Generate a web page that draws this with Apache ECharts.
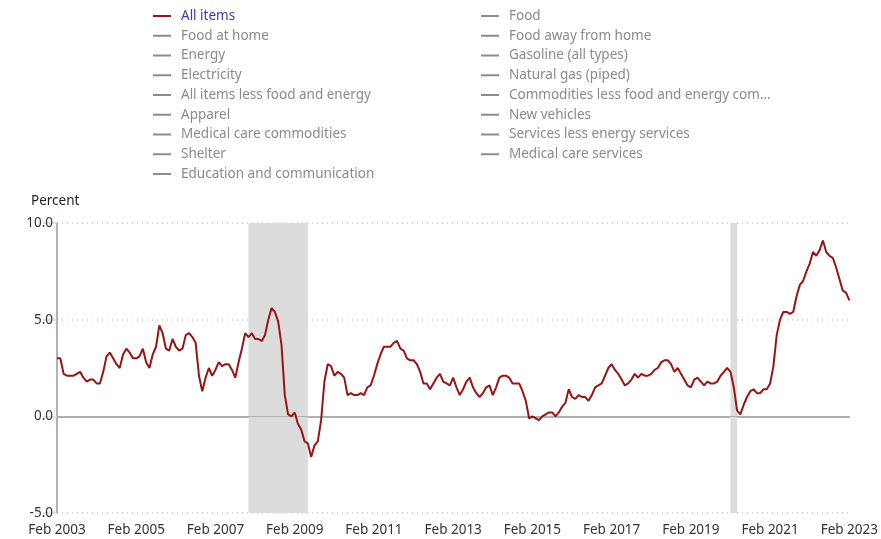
<!DOCTYPE html>
<html>
<head>
<meta charset="utf-8">
<script src="https://cdn.jsdelivr.net/npm/echarts@6/dist/echarts.min.js"></script>
<style>
  html, body { margin: 0; padding: 0; background: #fff; }
  #chart { width: 881px; height: 539px; }
</style>
</head>
<body>
<div id="chart"></div>
<script>
"use strict";

// 12-month percent change, CPI-U, Feb 2003 .. Feb 2023
const startYear = 2003;
const startMonth = 1; // Feb (0-based)
const monthNames = ['Jan','Feb','Mar','Apr','May','Jun','Jul','Aug','Sep','Oct','Nov','Dec'];

const y2003 = [3.0, 3.0, 2.2, 2.1, 2.1, 2.1, 2.2, 2.3, 2.0, 1.8, 1.9]; // Feb-Dec
const y2004 = [1.9, 1.7, 1.7, 2.3, 3.1, 3.3, 3.0, 2.7, 2.5, 3.2, 3.5, 3.3];
const y2005 = [3.0, 3.0, 3.1, 3.5, 2.8, 2.5, 3.2, 3.6, 4.7, 4.3, 3.5, 3.4];
const y2006 = [4.0, 3.6, 3.4, 3.5, 4.2, 4.3, 4.1, 3.8, 2.1, 1.3, 2.0, 2.5];
const y2007 = [2.1, 2.4, 2.8, 2.6, 2.7, 2.7, 2.4, 2.0, 2.8, 3.5, 4.3, 4.1];
const y2008 = [4.3, 4.0, 4.0, 3.9, 4.2, 5.0, 5.6, 5.4, 4.9, 3.7, 1.1, 0.1];
const y2009 = [0.0, 0.2, -0.4, -0.7, -1.3, -1.4, -2.1, -1.5, -1.3, -0.2, 1.8, 2.7];
const y2010 = [2.6, 2.1, 2.3, 2.2, 2.0, 1.1, 1.2, 1.1, 1.1, 1.2, 1.1, 1.5];
const y2011 = [1.6, 2.1, 2.7, 3.2, 3.6, 3.6, 3.6, 3.8, 3.9, 3.5, 3.4, 3.0];
const y2012 = [2.9, 2.9, 2.7, 2.3, 1.7, 1.7, 1.4, 1.7, 2.0, 2.2, 1.8, 1.7];
const y2013 = [1.6, 2.0, 1.5, 1.1, 1.4, 1.8, 2.0, 1.5, 1.2, 1.0, 1.2, 1.5];
const y2014 = [1.6, 1.1, 1.5, 2.0, 2.1, 2.1, 2.0, 1.7, 1.7, 1.7, 1.3, 0.8];
const y2015 = [-0.1, 0.0, -0.1, -0.2, 0.0, 0.1, 0.2, 0.2, 0.0, 0.2, 0.5, 0.7];
const y2016 = [1.4, 1.0, 0.9, 1.1, 1.0, 1.0, 0.8, 1.1, 1.5, 1.6, 1.7, 2.1];
const y2017 = [2.5, 2.7, 2.4, 2.2, 1.9, 1.6, 1.7, 1.9, 2.2, 2.0, 2.2, 2.1];
const y2018 = [2.1, 2.2, 2.4, 2.5, 2.8, 2.9, 2.9, 2.7, 2.3, 2.5, 2.2, 1.9];
const y2019 = [1.6, 1.5, 1.9, 2.0, 1.8, 1.6, 1.8, 1.7, 1.7, 1.8, 2.1, 2.3];
const y2020 = [2.5, 2.3, 1.5, 0.3, 0.1, 0.6, 1.0, 1.3, 1.4, 1.2, 1.2, 1.4];
const y2021 = [1.4, 1.7, 2.6, 4.2, 5.0, 5.4, 5.4, 5.3, 5.4, 6.2, 6.8, 7.0];
const y2022 = [7.5, 7.9, 8.5, 8.3, 8.6, 9.1, 8.5, 8.3, 8.2, 7.7, 7.1, 6.5];
const y2023 = [6.4, 6.0]; // Jan-Feb

const allItems = [].concat(y2003, y2004, y2005, y2006, y2007, y2008, y2009, y2010,
  y2011, y2012, y2013, y2014, y2015, y2016, y2017, y2018, y2019, y2020, y2021, y2022, y2023);

// month categories
let months = [];
for (let i = 0; i < allItems.length; i++) {
  let m = startMonth + i;
  months.push(monthNames[m % 12] + ' ' + (startYear + Math.floor(m / 12)));
}

// recession periods
const recessions = [['Dec 2007', 'Jun 2009'], ['Feb 2020', 'Apr 2020']];

const yTicks = [-5, 0, 5, 10];

const legendLeft = ['All items', 'Food at home', 'Energy', 'Electricity',
  'All items less food and energy', 'Apparel', 'Medical care commodities', 'Shelter',
  'Education and communication'];
const legendRight = ['Food', 'Food away from home', 'Gasoline (all types)', 'Natural gas (piped)',
  'Commodities less food and energy commodities', 'New vehicles',
  'Services less energy services', 'Medical care services'];

const chart = echarts.init(document.getElementById('chart'), null, { renderer: 'canvas' });

const fontFamily = 'Noto Sans';
const grayText = '#8a8a8a';
const grayLine = '#8c8c8c';

function legendData(names) {
  return names.map(function (n) {
    return {
      name: n,
      textStyle: { color: n === 'All items' ? '#3b3bab' : grayText }
    };
  });
}

function legendBox(names, left) {
  return {
    data: legendData(names),
    orient: 'vertical',
    left: left,
    top: 8,
    padding: 0,
    icon: 'rect',
    itemWidth: 18,
    itemHeight: 2,
    itemGap: 3.75,
    selectedMode: false,
    textStyle: {
      fontFamily: fontFamily,
      fontSize: 13.5,
      lineHeight: 16,
      padding: [0, 0, 0, 5],
      width: 272,
      overflow: 'truncate',
      ellipsis: '...'
    }
  };
}

let series = [{
  name: 'All items',
  type: 'line',
  data: allItems,
  symbol: 'none',
  smooth: false,
  lineStyle: { color: '#971515', width: 2 },
  itemStyle: { color: '#971515' },
  z: 5,
  markArea: {
    silent: true,
    itemStyle: { color: '#dcdcdc' },
    data: recessions.map(function (r) { return [{ xAxis: r[0] }, { xAxis: r[1] }]; })
  },
  markLine: {
    silent: true,
    symbol: 'none',
    label: { show: false },
    lineStyle: { color: '#b0b0b0', type: 'solid', width: 1 },
    data: [{ yAxis: 0 }]
  }
}];

legendLeft.concat(legendRight).forEach(function (n) {
  if (n === 'All items') return;
  series.push({
    name: n,
    type: 'line',
    data: [],
    symbol: 'none',
    lineStyle: { color: grayLine, width: 2 },
    itemStyle: { color: grayLine }
  });
});

chart.setOption({
  backgroundColor: '#fff',
  animation: false,
  title: {
    text: 'Percent',
    left: 26,
    top: 189,
    textStyle: { fontFamily: fontFamily, fontSize: 13.5, fontWeight: 'normal', color: '#222' }
  },
  legend: [legendBox(legendLeft, 153), legendBox(legendRight, 481)],
  grid: { left: 57, right: 30, top: 223, bottom: 26 },
  xAxis: {
    type: 'category',
    data: months,
    boundaryGap: false,
    axisLine: { show: true, lineStyle: { color: '#999', width: 1.5 } },
    axisTick: { show: false },
    axisLabel: {
      interval: 23,
      color: '#333',
      fontFamily: fontFamily,
      fontSize: 13.5,
      margin: 10,
      showMaxLabel: true
    },
    splitLine: { show: false }
  },
  yAxis: {
    type: 'value',
    min: yTicks[0],
    max: yTicks[yTicks.length - 1],
    interval: 5,
    axisLine: { show: true, lineStyle: { color: '#999', width: 1.5 } },
    axisTick: { show: true, length: 14, lineStyle: { color: '#c9d9ef', width: 1.5 } },
    axisLabel: {
      color: '#333',
      fontFamily: fontFamily,
      fontSize: 13.5,
      margin: 4,
      formatter: function (v) { return v.toFixed(1); }
    },
    splitLine: { show: true, lineStyle: { color: '#c8c8c8', type: [1, 4], width: 1.5 } }
  },
  series: series
});
</script>
</body>
</html>
